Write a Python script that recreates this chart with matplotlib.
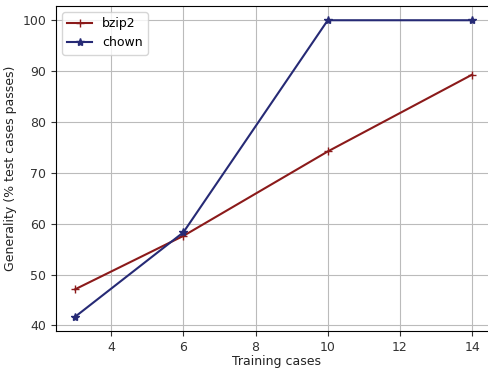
import matplotlib
matplotlib.use("Agg")
import matplotlib.pyplot as plt

# Generality vs number of training cases
training_cases = [3, 6, 10, 14]
bzip2 = [47.1, 57.6, 74.2, 89.3]
chown = [41.7, 58.3, 100.0, 100.0]

fig = plt.figure(figsize=(4.89, 3.68), dpi=100)
# the right edge of the axes sits just past the image border, as in the source
ax = fig.add_axes([56/489, 37/368, 441/489, 325/368])

ax.plot(training_cases, bzip2, color="#8b1a1a", marker="+", markersize=6, label="bzip2")
ax.plot(training_cases, chown, color="#262a75", marker="*", markersize=6, label="chown")

ax.grid(True, color="#bbbbbb", linewidth=0.8)
ax.set_axisbelow(True)
ax.set_xticks([4, 6, 8, 10, 12, 14])
ax.set_yticks([40, 50, 60, 70, 80, 90, 100])
ax.set_xlim(2.47, 14.69)
ax.set_ylim(38.9, 102.8)
ax.tick_params(labelsize=9, colors="#333333")
ax.set_xlabel("Training cases", fontsize=9, color="#222222", labelpad=1)
ax.set_ylabel("Generality (% test cases passes)", fontsize=9, color="#222222")
ax.legend(loc="upper left", fontsize=9)

fig.savefig("out.png", dpi=100)
